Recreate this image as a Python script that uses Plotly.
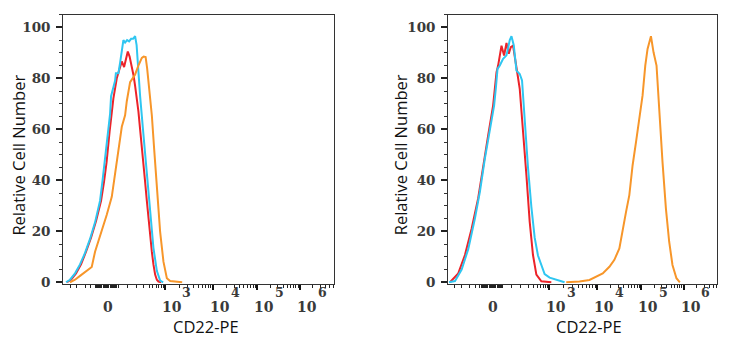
import math
import plotly.graph_objects as go

# ---- Histogram traces (x in display channels of the biexponential CD22-PE scale,
#      y in relative cell number) ----

# Left panel
left_cyan_x = [2.7, 6.7, 11.7, 16.7, 21.7, 26.7, 31.7, 36.7, 39.2, 42.2,
               45.2, 46.7, 47.7, 49.7, 51.7, 52.5, 55.0, 56.7, 58.2, 60.0,
               61.7, 63.7, 65.7, 67.7, 69.7, 71.7, 73.2, 74.7, 76.7, 80.0,
               83.4, 86.7, 90.0, 93.4, 96.7, 99.7]
left_cyan_y = [0, 1, 3.5, 7, 11.5, 17, 23.5, 32, 40, 50,
               60, 66, 73, 76, 79, 82, 82, 86, 90, 95,
               94, 95, 94.5, 95.5, 95.5, 96.5, 93, 84, 73, 58,
               42, 26.5, 13.5, 4.5, 0.7, 0]

left_red_x = [3.7, 7.7, 12.7, 17.7, 22.7, 27.7, 32.7, 37.7, 40.7, 43.2,
              46.2, 50.0, 53.4, 56.0, 58.4, 60.7, 62.2, 64.4, 66.2, 68.4,
              70.2, 71.7, 73.4, 75.0, 76.7, 78.4, 80.0, 81.7, 83.4, 85.0,
              86.7, 88.4, 90.0, 91.7, 93.4, 95.0, 97.7]
left_red_y = [0, 1, 3.5, 7, 12, 17.5, 24, 32, 39.5, 47,
              59, 72, 80, 84, 86.6, 84.4, 87, 90.5, 88.5, 85,
              81, 77, 72, 67, 60, 53.7, 46.5, 39.4, 32, 25,
              18, 12, 7, 3, 1, 0.3, 0]

left_orange_x = [6.7, 11.7, 16.7, 23.4, 28.4, 31.7, 36.7, 43.4, 48.4, 51.7,
                 55.0, 58.4, 61.7, 63.4, 66.7, 69.2, 71.7, 75.0, 78.4, 80.2,
                 82.2, 83.7, 86.0, 88.4, 90.7, 93.4, 96.7, 100.0, 103.4, 106.7,
                 111.7, 118.7]
left_orange_y = [0, 1, 2.5, 4.5, 6, 12, 18, 26.5, 33.5, 42.5,
                 50, 61, 65.5, 71, 78.5, 80, 81.5, 85, 88, 88.5,
                 88.3, 84, 74.6, 65.5, 52.4, 36.8, 19.8, 8.1, 1.6, 0.5,
                 0.2, 0]

# Right panel
right_cyan_x = [0.7, 6.7, 13.4, 20.0, 26.7, 31.7, 36.7, 41.7, 46.0, 47.7,
                49.4, 51.7, 55.0, 58.4, 61.7, 63.4, 65.7, 68.4, 71.7, 74.0,
                76.7, 80.0, 83.4, 86.7, 90.0, 93.4, 96.7, 101.7, 106.7, 111.7,
                116.7]
right_cyan_y = [0, 0.5, 5, 13, 25, 35.5, 48.5, 60, 69.4, 76,
                83.7, 85, 87.6, 89, 95, 96.5, 93, 83, 81.7, 79.2,
                63, 45, 29.5, 17.5, 10.5, 6.5, 3.2, 1.8, 1.1, 0.4,
                0]

right_red_x = [1.7, 10.0, 16.7, 23.4, 30.0, 35.0, 40.0, 45.0, 48.4, 50.0,
               53.4, 56.0, 58.4, 60.7, 62.7, 65.0, 67.4, 69.7, 71.7, 75.0,
               78.4, 81.7, 85.0, 88.4, 93.4, 103.4]
right_red_y = [0, 3.5, 10.7, 21, 33, 46, 57.6, 69.4, 82.4, 85,
               92.8, 88.9, 93.9, 89.6, 92.2, 92.8, 87.6, 81, 75.9, 60.2,
               42, 23.7, 10.7, 3, 0.4, 0]

right_orange_x = [118.4, 131.7, 141.7, 148.4, 155.0, 161.7, 166.7, 171.7, 175.7, 178.4,
                  181.7, 185.0, 188.4, 191.7, 195.0, 197.7, 200.0, 203.4, 206.0, 209.0,
                  211.7, 215.0, 218.4, 221.7, 225.0, 229.0, 232.4]
right_orange_y = [0, 0.3, 0.9, 2.2, 3.5, 6.1, 8.8, 13.3, 21, 27.6,
                  34.2, 45.9, 55, 64, 73.3, 85, 91.5, 96.5, 90.2, 85,
                  66.8, 47.2, 29, 15.9, 6.8, 1.6, 0]

# Axis labelling
x_title = "CD22-PE"
y_title = "Relative Cell Number"
y_ticks = [0, 20, 40, 60, 80, 100]
decade_exponents = ["3", "4", "5", "6"]

# ---- Scale geometry (display channels) ----
X_RANGE = [0, 270]
Y_RANGE = [-0.5, 105]
ZERO_CH = 44.7
DECADE_CH = [101.4, 149.5, 193.7, 236.4]
DECADE_W = [48.1, 44.2, 42.7, 42.5]

RED = "#ec2329"
CYAN = "#2fc6f1"
ORANGE = "#f7962a"
AXIS = "#333333"
SERIF = "DejaVu Serif, serif"
TICKFONT = dict(family=SERIF, size=13.5, color="#3a3a3a", weight="bold")
XTICKFONT = dict(family=SERIF, size=14, color="#3a3a3a", weight="bold")
SUPFONT = dict(family=SERIF, size=12.5, color="#3a3a3a", weight="bold")
TITLEFONT = dict(family="Open Sans, Noto Sans, sans-serif", size=16.5, color="#111111")

W, H = 730, 350


def minor_positions():
    vals = [6.7, 13.4, 21.7, 27.0]
    c = 31.7
    while c <= 54.8:                       # dense linear region around zero
        vals.append(round(c, 2))
        c += 1.15
    for off in [37.5, 28.8, 21.4, 15.5, 12.0, 8.8, 6.2, 3.7, 1.7]:
        vals.append(DECADE_CH[0] - off)    # 100 .. 900
    for start, w in zip(DECADE_CH, DECADE_W):
        for k in range(2, 10):
            p = start + w * math.log10(k)
            if p < X_RANGE[1] - 0.5:
                vals.append(round(p, 2))
    return vals


def py(ypx):
    return (H - ypx) / H


fig = go.Figure()

panels = [
    ("x", "y", [(left_red_x, left_red_y, RED),
                (left_cyan_x, left_cyan_y, CYAN),
                (left_orange_x, left_orange_y, ORANGE)]),
    ("x2", "y2", [(right_red_x, right_red_y, RED),
                  (right_cyan_x, right_cyan_y, CYAN),
                  (right_orange_x, right_orange_y, ORANGE)]),
]

for xa, ya, series in panels:
    for xs, ys, col in series:
        fig.add_trace(go.Scatter(x=xs, y=ys, xaxis=xa, yaxis=ya, mode="lines",
                                 line=dict(color=col, width=2),
                                 showlegend=False, hoverinfo="skip"))

xdomains = [[63.3 / W, 333.7 / W], [448.3 / W, 717.3 / W]]
ydomain = [py(288.5), py(14.8)]

common_x = dict(range=X_RANGE, showgrid=False, zeroline=False,
                showline=True, linecolor=AXIS, linewidth=1.2, mirror=True,
                tickmode="array", tickvals=DECADE_CH, ticks="outside",
                ticklen=5, tickwidth=1.6, tickcolor="#111",
                showticklabels=False,
                minor=dict(tickmode="array", tickvals=minor_positions(),
                           ticks="outside", ticklen=3, tickwidth=1,
                           tickcolor="#222"))
common_y = dict(range=Y_RANGE, showgrid=False, zeroline=False,
                showline=True, linecolor=AXIS, linewidth=1.2, mirror=True,
                tickmode="array", tickvals=y_ticks,
                ticks="outside", ticklen=6, tickwidth=1.5, tickcolor="#222",
                tickfont=TICKFONT, ticklabelstandoff=3,
                minor=dict(dtick=5, tick0=0, ticks="outside", ticklen=3,
                           tickwidth=1, tickcolor="#333"))

fig.update_layout(
    width=W, height=H, autosize=False, margin=dict(l=0, r=0, t=0, b=0),
    paper_bgcolor="white", plot_bgcolor="white",
    xaxis=dict(domain=xdomains[0], anchor="y", **common_x),
    yaxis=dict(domain=ydomain, anchor="x", **common_y),
    xaxis2=dict(domain=xdomains[1], anchor="y2", **common_x),
    yaxis2=dict(domain=ydomain, anchor="x2", **common_y),
)

annotations = []
title_x = [205.8, 588.7]
ytitle_x = [18.3, 400.0]
for i, xa in enumerate(["x", "x2"]):
    annotations.append(dict(text="0", xref=xa, yref="paper", x=ZERO_CH, y=py(312.5),
                            xanchor="center", yanchor="middle", showarrow=False,
                            font=XTICKFONT, borderpad=0))
    for ch, e in zip(DECADE_CH, decade_exponents):
        annotations.append(dict(text="10", xref=xa, yref="paper", x=ch, y=py(312.5),
                                xanchor="left", yanchor="middle", xshift=-4,
                                showarrow=False, font=XTICKFONT, borderpad=0))
        annotations.append(dict(text=e, xref=xa, yref="paper", x=ch, y=py(297.5),
                                xanchor="left", yanchor="middle", xshift=16.5,
                                showarrow=False, font=SUPFONT, borderpad=0))
    annotations.append(dict(text=x_title, xref="paper", yref="paper",
                            x=title_x[i] / W, y=py(332), xanchor="center",
                            yanchor="middle", showarrow=False, font=TITLEFONT,
                            borderpad=0))
    annotations.append(dict(text=y_title, xref="paper", yref="paper",
                            x=ytitle_x[i] / W, y=py(158), xanchor="center",
                            yanchor="middle", textangle=-90, showarrow=False,
                            font=TITLEFONT))
fig.update_layout(annotations=annotations)

fig.write_html("out.html", config={"responsive": False})
